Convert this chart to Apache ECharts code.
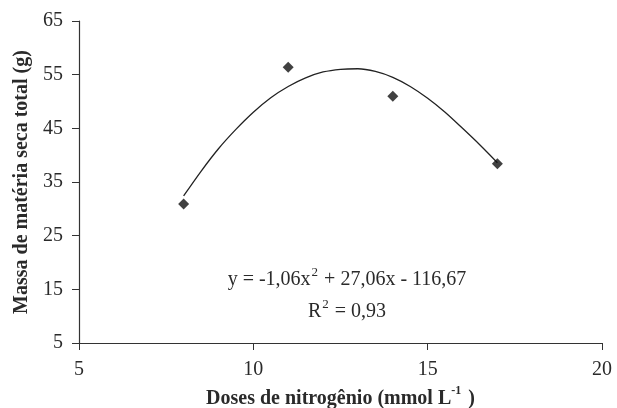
<!DOCTYPE html>
<html>
<head>
<meta charset="utf-8">
<script src="https://cdn.jsdelivr.net/npm/echarts@6/dist/echarts.min.js"></script>
<style>html,body{margin:0;padding:0;background:#fff}#c{width:617px;height:408px}</style>
</head>
<body>
<div id="c"></div>
<script>
// observed data points
const doseX = [8, 11, 14, 17];
const massY = [30.9, 56.4, 51.0, 38.4];
// fitted curve
const curveX = [8, 8.5, 9, 9.5, 10, 10.5, 11, 11.5, 12, 12.5, 13, 13.5, 14, 14.5, 15, 15.5, 16, 16.5, 17];
const curveY = [32.4, 37.0, 41.2, 44.8, 48.0, 50.7, 52.8, 54.4, 55.5, 56.0, 56.1, 55.6, 54.5, 52.8, 50.6, 48.0, 45.0, 41.9, 38.6];
// axis ticks
const xTicks = [5, 10, 15, 20];
const yTicks = [5, 15, 25, 35, 45, 55, 65];

const serif = '"Liberation Serif", "DejaVu Serif", serif';
const axisCol = '#333';
const txtCol = '#2a2a2a';

const chart = echarts.init(document.getElementById('c'));
chart.setOption({
  animation: false,
  backgroundColor: '#fff',
  grid: { left: 79, right: 15, top: 21, bottom: 65, containLabel: false, outerBoundsMode: 'none' },
  xAxis: {
    type: 'value', min: xTicks[0], max: xTicks[xTicks.length - 1], interval: 5,
    axisLine: { lineStyle: { color: axisCol, width: 1.2 } },
    axisTick: { show: true, inside: false, length: 7, lineStyle: { color: axisCol } },
    axisLabel: { fontFamily: serif, fontSize: 20, color: txtCol, margin: 17 },
    splitLine: { show: false },
    name: '{b|Doses de nitrogênio (mmol L}{s|-1}{b| )}',
    nameLocation: 'middle', nameGap: 36,
    nameTextStyle: {
      rich: {
        b: { fontFamily: serif, fontSize: 20, fontWeight: 'bold', color: txtCol, lineHeight: 24, verticalAlign: 'bottom' },
        s: { fontFamily: serif, fontSize: 12, fontWeight: 'bold', color: txtCol, lineHeight: 24, verticalAlign: 'top', padding: [0, 2, 0, 0] }
      }
    }
  },
  yAxis: {
    type: 'value', min: yTicks[0], max: yTicks[yTicks.length - 1], interval: 10,
    axisLine: { show: true, lineStyle: { color: axisCol, width: 1.2 } },
    axisTick: { show: true, inside: false, length: 7, lineStyle: { color: axisCol } },
    axisLabel: { fontFamily: serif, fontSize: 20, color: txtCol, margin: 16 },
    splitLine: { show: false },
    name: 'Massa de matéria seca total (g)',
    nameLocation: 'middle', nameGap: 46,
    nameTextStyle: { fontFamily: serif, fontSize: 20, fontWeight: 'bold', color: txtCol }
  },
  graphic: [
    {
      type: 'text', x: 347, y: 278,
      style: {
        text: '{t|y = -1,06x}{s|2}{t| + 27,06x - 116,67}',
        align: 'center', verticalAlign: 'middle',
        rich: {
          t: { fontFamily: serif, fontSize: 20, fill: txtCol, lineHeight: 24, verticalAlign: 'bottom' },
          s: { fontFamily: serif, fontSize: 13, fill: txtCol, lineHeight: 24, verticalAlign: 'top', padding: [0, 1, 0, 1] }
        }
      }
    },
    {
      type: 'text', x: 347, y: 310,
      style: {
        text: '{t|R}{s|2}{t| = 0,93}',
        align: 'center', verticalAlign: 'middle',
        rich: {
          t: { fontFamily: serif, fontSize: 20, fill: txtCol, lineHeight: 24, verticalAlign: 'bottom' },
          s: { fontFamily: serif, fontSize: 13, fill: txtCol, lineHeight: 24, verticalAlign: 'top', padding: [0, 1, 0, 1] }
        }
      }
    }
  ],
  series: [
    {
      type: 'line', name: 'ajuste',
      data: curveX.map((x, i) => [x, curveY[i]]),
      smooth: 0.3, showSymbol: false, symbol: 'none',
      lineStyle: { color: '#222', width: 1.3 },
      z: 2
    },
    {
      type: 'scatter', name: 'observado',
      data: doseX.map((x, i) => [x, massY[i]]),
      symbol: 'diamond', symbolSize: 11,
      itemStyle: { color: '#111' },
      z: 3
    }
  ]
});
</script>
</body>
</html>
